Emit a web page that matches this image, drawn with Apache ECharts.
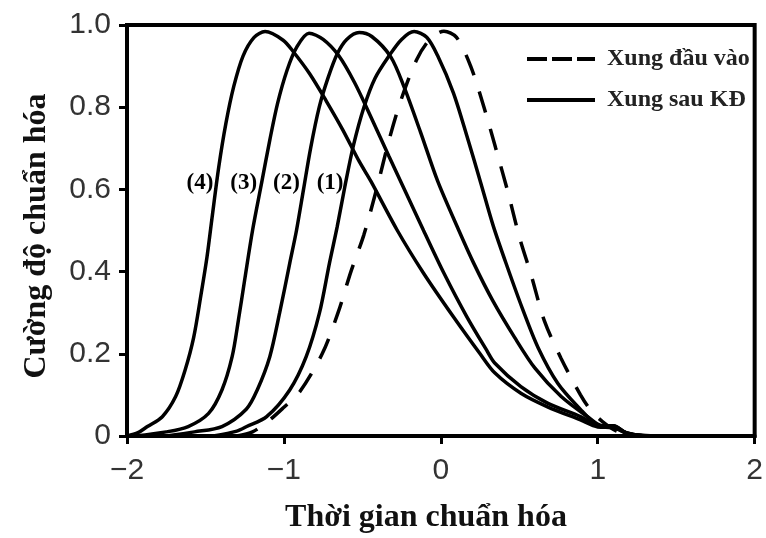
<!DOCTYPE html>
<html>
<head>
<meta charset="utf-8">
<script src="https://cdn.jsdelivr.net/npm/echarts@6/dist/echarts.min.js"></script>
<style>
html,body{margin:0;padding:0;background:#fff;}
#c{width:766px;height:538px;}
</style>
</head>
<body>
<div id="c"></div>
<script>
// ---- data ----
const xTicks = [-2, -1, 0, 1, 2];
const yTicks = [0, 0.2, 0.4, 0.6, 0.8, 1.0];
const inputName = 'Xung đầu vào';
const outputName = 'Xung sau KĐ';
const xTitle = 'Thời gian chuẩn hóa';
const yTitle = 'Cường độ chuẩn hóa';

const inputPulse = [
  [-1.30,0.0],[-1.20,0.01],[-1.10,0.036],[-1.00,0.07],[-0.90,0.107],[-0.756,0.20],[-0.655,0.30],
  [-0.573,0.40],[-0.49,0.49],[-0.41,0.60],[-0.33,0.72],[-0.256,0.815],[-0.155,0.915],[-0.07,0.965],
  [0.02,0.985],[0.10,0.97],[0.19,0.90],[0.275,0.80],[0.35,0.70],[0.43,0.59],[0.50,0.485],
  [0.577,0.39],[0.66,0.28],[0.765,0.19],[0.89,0.10],[0.955,0.063],[1.03,0.035],[1.12,0.012],[1.25,0.0]
];
const pulse1 = [
  [-1.45,0.0],[-1.30,0.012],[-1.237,0.023],[-1.11,0.047],[-0.963,0.112],[-0.858,0.193],[-0.773,0.30],
  [-0.71,0.42],[-0.66,0.51],[-0.61,0.61],[-0.555,0.71],[-0.49,0.80],[-0.42,0.87],[-0.33,0.925],
  [-0.25,0.965],[-0.17,0.984],[-0.09,0.97],[-0.02,0.925],[0.08,0.835],[0.17,0.725],[0.255,0.615],
  [0.335,0.51],[0.425,0.41],[0.52,0.31],[0.62,0.215],[0.746,0.128],[0.894,0.063],[0.978,0.032],
  [1.05,0.022],[1.10,0.025],[1.18,0.008],[1.30,0.0]
];
const pulse2 = [
  [-1.75,0.0],[-1.57,0.01],[-1.395,0.023],[-1.24,0.065],[-1.17,0.112],[-1.09,0.193],[-1.027,0.30],
  [-0.963,0.42],[-0.92,0.50],[-0.875,0.60],[-0.83,0.70],[-0.775,0.80],[-0.72,0.87],[-0.66,0.93],
  [-0.60,0.965],[-0.52,0.982],[-0.44,0.972],[-0.32,0.923],[-0.235,0.85],[-0.13,0.74],[-0.02,0.62],
  [0.115,0.50],[0.21,0.42],[0.33,0.33],[0.47,0.24],[0.60,0.165],[0.767,0.096],[0.935,0.047],
  [1.03,0.025],[1.10,0.025],[1.18,0.008],[1.30,0.0]
];
const pulse3 = [
  [-1.95,0.0],[-1.75,0.01],[-1.61,0.023],[-1.48,0.055],[-1.395,0.112],[-1.33,0.193],[-1.29,0.282],
  [-1.25,0.38],[-1.20,0.50],[-1.14,0.62],[-1.09,0.72],[-1.04,0.81],[-0.98,0.89],[-0.92,0.945],
  [-0.84,0.98],[-0.75,0.965],[-0.65,0.925],[-0.55,0.86],[-0.45,0.78],[-0.33,0.68],[-0.22,0.59],
  [-0.11,0.50],[0.02,0.396],[0.166,0.29],[0.29,0.21],[0.345,0.177],[0.51,0.12],[0.68,0.08],
  [0.89,0.047],[1.00,0.025],[1.10,0.022],[1.20,0.005],[1.35,0.0]
];
const pulse4 = [
  [-2.0,0.0],[-1.93,0.008],[-1.87,0.023],[-1.775,0.047],[-1.69,0.096],[-1.63,0.16],[-1.575,0.24],
  [-1.53,0.34],[-1.49,0.436],[-1.46,0.525],[-1.415,0.655],[-1.37,0.76],[-1.32,0.85],[-1.26,0.925],
  [-1.19,0.97],[-1.12,0.984],[-1.005,0.963],[-0.94,0.935],[-0.837,0.882],[-0.73,0.815],
  [-0.625,0.745],[-0.52,0.668],[-0.446,0.62],[-0.277,0.50],[-0.11,0.396],[0.08,0.29],[0.25,0.20],
  [0.345,0.153],[0.51,0.104],[0.68,0.071],[0.89,0.039],[1.00,0.022],[1.10,0.02],[1.20,0.005],[1.40,0.0]
];
const curveLabels = ['(4)', '(3)', '(2)', '(1)'];
const curveLabelPos = [[-1.535,0.616],[-1.256,0.616],[-0.984,0.616],[-0.706,0.616]];

// ---- chart ----
const chart = echarts.init(document.getElementById('c'), null, {renderer:'canvas'});
const serif = '"Liberation Serif","Times New Roman",serif';
const sans = '"Liberation Sans",Arial,sans-serif';
const solid = {color:'#000', width:3.5, type:'solid'};

function solidSeries(data){
  return {name: outputName, type:'line', data, smooth:0.3, symbol:'none', showSymbol:false,
          lineStyle: solid, itemStyle:{color:'#000'}, silent:true, z:3};
}
const hiddenSymbol = {opacity:0, color:'rgba(0,0,0,0)', borderWidth:0};

const titles = [
  {id:'xt', type:'text', x:426, y:518,
   style:{text:xTitle, font:'bold 32px '+serif, fill:'#111', textAlign:'center', textVerticalAlign:'middle'}},
  {id:'yt', type:'text', x:37, y:236, rotation:Math.PI/2,
   style:{text:yTitle, font:'bold 32px '+serif, fill:'#111', textAlign:'center', textVerticalAlign:'middle'}}
];

chart.setOption({
  animation:false,
  backgroundColor:'#fff',
  grid:{left:127, right:6, top:25, bottom:102, show:true, borderColor:'#000', borderWidth:4},
  xAxis:{type:'value', min:xTicks[0], max:xTicks[xTicks.length-1], interval:1,
    axisLine:{show:true, onZero:false, lineStyle:{color:'#000', width:4}},
    axisTick:{show:true, length:8, lineStyle:{color:'#000', width:3}},
    splitLine:{show:false},
    axisLabel:{margin:20, fontFamily:sans, fontSize:30, color:'#333',
      formatter:v=>String(v).replace('-', '\u2212')}},
  yAxis:{type:'value', min:yTicks[0], max:yTicks[yTicks.length-1], interval:0.2,
    axisLine:{show:true, onZero:false, lineStyle:{color:'#000', width:4}},
    axisTick:{show:true, length:8, lineStyle:{color:'#000', width:3}},
    splitLine:{show:false},
    axisLabel:{margin:16, fontFamily:sans, fontSize:30, color:'#333',
      formatter:v=> v===0 ? '0' : v.toFixed(1)}},
  legend:{orient:'vertical', left:520, top:42, itemWidth:68, itemHeight:20, itemGap:17,
    textStyle:{fontFamily:serif, fontWeight:'bold', fontSize:24, color:'#222', padding:[0,0,0,7]},
    data:[{name:inputName, itemStyle:hiddenSymbol, lineStyle:{type:[20,5], width:4, color:'#000'}},
          {name:outputName, itemStyle:hiddenSymbol, lineStyle:{type:'solid', width:4, color:'#000'}}]},
  graphic: titles,
  series:[
    {name: inputName, type:'line', data: inputPulse, smooth:0.3, symbol:'none', showSymbol:false,
     lineStyle:{color:'#000', width:3.5, type:[22,17]}, itemStyle:{color:'#000'}, silent:true, z:3},
    solidSeries(pulse1), solidSeries(pulse2), solidSeries(pulse3), solidSeries(pulse4)
  ]
});

// curve annotations (1)-(4), placed through the chart's own coordinate conversion
const labelGraphics = curveLabelPos.map((p, i) => {
  const px = chart.convertToPixel({gridIndex:0}, p);
  return {id:'cl'+i, type:'text', x:px[0], y:px[1], z:10,
    style:{text:curveLabels[i], font:'bold 23px '+serif, fill:'#000', textAlign:'center', textVerticalAlign:'middle'}};
});
chart.setOption({graphic: titles.concat(labelGraphics)});
</script>
</body>
</html>
